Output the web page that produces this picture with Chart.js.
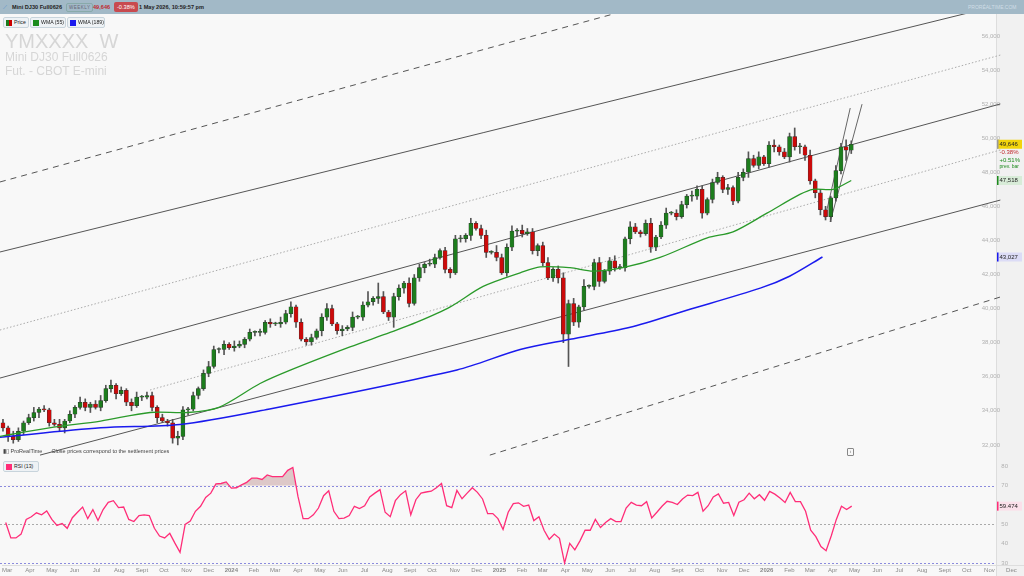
<!DOCTYPE html>
<html><head><meta charset="utf-8">
<script src="https://cdn.jsdelivr.net/npm/chart.js@4.4.1/dist/chart.umd.min.js"></script>
<style>
html,body{margin:0;padding:0;width:1024px;height:576px;overflow:hidden;font-family:"Liberation Sans",Arial,sans-serif;background:#f8f8f8}
#hdr{position:absolute;left:0;top:0;width:1024px;height:14px;background:#a2b9c7;font-size:5.6px;line-height:14px;color:#222;white-space:nowrap}
#hdr span{position:absolute;top:0}
.box{border:1px solid #8aa;border-radius:2px;line-height:7px;top:3px!important;padding:0 2px;font-size:4.5px;color:#667;letter-spacing:.5px}
#pc{position:absolute;left:0;top:14px}
#rc{position:absolute;left:0;top:458px}
.leg{position:absolute;top:17px;height:9px;font-size:5.2px;line-height:9px;border:1px solid #c8d4dc;border-radius:2px;background:#eef2f5;padding:0 2px 0 10px;color:#222;white-space:nowrap}
.leg i{position:absolute;left:2px;top:1.5px;width:6px;height:6px}
.wm{position:absolute;left:5px;color:#d6d6d6;white-space:nowrap}
</style></head><body>
<canvas id="pc" width="1024" height="444"></canvas>
<canvas id="rc" width="1024" height="118"></canvas>
<div id="hdr">
<span style="left:3px;color:#4a8ad0">⟋</span>
<span style="left:12px;font-weight:bold">Mini DJ30 Full0626</span>
<span class="box" style="left:66px">WEEKLY</span>
<span style="left:93px;color:#c0282d;font-weight:bold">49,646</span>
<span style="left:114px;top:2px;line-height:10px;background:#c84a4f;color:#fff;border-radius:2px;padding:0 3px">-0.38%</span>
<span style="left:139px;font-weight:bold">1 May 2026, 10:59:57 pm</span>
<span style="left:968px;color:#cfdde6;font-size:5px">PRORÉALTIME.COM</span>
</div>
<div class="leg" style="left:3px;width:12px"><i style="background:linear-gradient(90deg,#1c7c1c 50%,#c00 50%)"></i>Price</div>
<div class="leg" style="left:30px;width:22px"><i style="background:#1c8c1c"></i>WMA (55)</div>
<div class="leg" style="left:67px;width:24px"><i style="background:#1a1aee"></i>WMA (189)</div>
<div class="wm" style="top:30px;font-size:20px">YMXXXX&nbsp; W</div>
<div class="wm" style="top:50px;font-size:12px">Mini DJ30 Full0626</div>
<div class="wm" style="top:64px;font-size:12px">Fut. - CBOT E-mini</div>
<div style="position:absolute;left:3px;top:448px;font-size:5.5px;color:#444;white-space:nowrap">▮▯ ProRealTime &nbsp;&nbsp;&nbsp;&nbsp;&nbsp;Close prices correspond to the settlement prices</div>
<div style="position:absolute;left:847px;top:448px;width:5px;height:6px;border:1px solid #888;border-radius:1px;font-size:4px;line-height:6px;text-align:center;color:#555">i</div>
<div class="leg" style="left:3px;top:461px;width:22px"><i style="background:#ff2d78"></i>RSI (13)</div>
<script>
// ---- data (weekly, thousands of points) ----
const closes = [33.0,32.5,32.3,32.8,33.3,33.6,33.9,34.1,34.05,33.3,
33.2,33.0,33.4,33.8,34.2,34.5,34.2,34.4,34.2,34.6,
35.3,35.5,35.0,35.2,34.5,34.3,34.8,34.8,34.9,34.2,
33.6,33.4,33.3,32.4,32.5,34.05,34.1,34.9,35.3,36.2,
36.6,37.6,37.6,37.9,37.7,37.8,37.9,38.2,38.6,38.6,
38.6,39.2,39.1,39.1,39.2,39.7,40.1,39.2,38.2,38.05,
38.3,38.7,39.5,40.0,39.1,38.7,38.8,38.9,39.5,39.5,
40.2,40.4,40.6,40.7,39.8,39.5,40.7,41.2,41.5,40.3,
41.8,42.4,42.6,42.6,43.0,43.4,42.3,42.1,44.1,44.1,
44.3,45.0,44.7,44.3,43.3,43.3,43.0,42.1,43.6,44.55,
44.6,44.4,44.5,43.4,43.7,42.7,41.8,42.3,41.8,38.5,
40.3,39.2,40.1,41.3,41.3,42.7,41.6,42.2,42.8,42.4,
42.4,44.1,44.8,44.5,44.4,45.0,43.6,44.2,44.9,45.6,
45.6,45.4,46.1,46.6,46.6,47.0,45.6,46.4,47.4,47.7,
47.0,47.1,46.3,47.7,48.0,48.8,48.4,48.9,48.5,49.6,
49.5,49.2,48.9,50.1,49.5,49.5,49.0,47.5,46.8,45.8,
45.4,46.5,48.1,49.5,49.3,49.646];
const firstOpen = 33.3;
// wick extensions, hundreds of points
const wickUp = [2,1,3,2,1,2,3,1,2,1, 2,3,1,2,1,3,2,1,2,3, 2,3,1,2,1,2,3,1,2,2, 1,2,1,2,3,2,1,2,1,2, 3,2,1,2,1,3,2,1,2,1, 2,1,2,1,3,2,3,1,2,1, 2,1,2,3,2,1,2,1,3,1, 2,6,1,8,3,1,2,2,1,3, 2,2,1,3,2,1,2,1,2,2, 1,3,1,2,3,1,4,2,2,3, 1,3,2,2,1,2,3,1,2,3, 2,3,1,4,1,2,3,1,2,3, 2,1,3,2,1,2,3,1,2,3, 1,2,2,1,3,2,2,1,2,3, 1,2,1,3,2,4,2,3,1,2, 3,1,2,2,5,2,1,3,1,2, 2,1,3,2,4,2];
const wickDn = [2,3,2,1,2,1,2,3,1,2, 1,2,3,1,2,1,2,3,1,2, 1,2,3,1,2,3,1,2,1,2, 3,1,2,3,4,2,3,1,2,1, 2,1,2,3,1,2,1,2,1,2, 2,1,2,1,2,1,2,3,1,2, 2,1,3,2,1,2,3,1,2,1, 2,1,2,3,1,2,6,2,3,2, 1,2,3,1,2,1,2,3,1,2, 2,3,1,2,3,1,2,1,2,2, 3,2,1,2,3,2,1,2,3,5, 19,2,3,2,1,2,3,1,2,2, 1,2,3,1,2,1,3,2,1,2, 1,2,1,2,3,2,3,1,2,1, 2,3,2,1,2,3,1,2,1,2, 3,2,1,3,2,4,3,2,3,3, 2,3,2,2,6,2];
const rsi = [51,43,43,45,52.6,54,56,55,57,52.6,49.5,50.5,48,53.5,56.3,59,53,57.7,52,57.7,
61.4,62.3,58.7,59,52.6,51.5,54.6,55,54.6,48,44,43,45.4,40.3,35.6,50,51.7,56.8,59.4,64,
66.2,71,71.2,72,68.8,69,70.5,71.8,74,74,73.3,75.6,74.8,74.8,74.8,78,79.5,64.5,53,53,
55,58.5,64.9,67.4,56.8,53,53.3,54.6,59.4,58.2,59.7,64.2,66.2,68,56.3,54,62.3,65.4,67.4,55,
62.8,66.2,66.8,67.2,69,71.2,59.7,58.7,67.6,63.3,66.2,69,66.6,63.2,55.6,55.6,53,47.4,56.3,60.8,
61.2,59.4,60,52,54,47,42.3,45,42.8,30,40.2,36.8,41.5,47,47,52.6,48.4,51,53,51.5,
51.5,58.5,61.4,60,59.7,61.8,53.4,56.3,59.4,62,61.4,60.3,63.2,65.2,64.9,66.6,56.8,59.7,64.2,65.8,
61,61.4,54.6,61.5,62.8,66.2,63.3,65.4,62.5,67.1,65.7,63.7,61.4,66.6,61.8,61.8,56.8,47,43.7,38.6,
36.4,44,52.6,59.4,57.7,59.474];
// WMA readings: [week index, value]
const wma55 = [[-0.6,32.5],[9,33.0],[19,33.4],[28.6,33.9],[36,33.9],[42,34.2],[50,35.6],[56,36.4],[67.5,37.75],[75.3,38.6],[80.5,39.2],[87,40.1],[93.4,41.3],[100.6,42.1],[104.5,42.45],[110.3,42.4],[114.8,42.2],[120.6,42.4],[127.8,43.0],[137,44.15],[142,44.5],[148.6,45.6],[155,46.7],[157.6,47.0],[161.5,47.0],[165,47.518]];
const wma189 = [[-0.6,32.45],[19,33.0],[34.4,33.2],[50,34.0],[88.3,36.4],[100.6,37.6],[110.3,38.2],[122,38.9],[133,39.9],[147.3,41.2],[153,41.9],[159.4,43.027]];
// channel lines: [week index, value] pairs
const chDashTop = [[-0.6,47.43],[194,63.51]];
const chSolidTop = [[-0.6,43.32],[194,57.82]];
const chDotTop = [[-0.6,38.74],[194,54.88]];
const chSolidMid = [[-0.6,35.92],[194,52.01]];
const chDotMid = [[28.6,35.22],[194,49.31]];
const chSolidLow = [[7.2,31.40],[194,46.37]];
const chDashLow = [[94.7,31.40],[194,40.68]];
const fanA = [[159.9,45.32],[164.8,51.77]];
const fanB = [[160.9,45.08],[167.1,52.0]];
const monthLabels = ['Mar','Apr','May','Jun','Jul','Aug','Sept','Oct','Nov','Dec','2024','Feb','Mar','Apr','May','Jun','Jul','Aug','Sept','Oct','Nov','Dec','2025','Feb','Mar','Apr','May','Jun','Jul','Aug','Sept','Oct','Nov','Dec','2026','Feb','Mar','Apr','May','Jun','Jul','Aug','Sept','Oct','Nov','Dec'];
const priceTicks = [32,34,36,38,40,42,44,46,48,50,52,54,56];
const rsiTicks = [30,40,50,70,80];

// ---- build ----
const XMIN=-0.58, XMAX=198.6;
const t0 = new Date(2023,1,27).getTime();
const monthTicks = monthLabels.map((l,k)=>({i:(new Date(2023,2+k,1).getTime()-t0)/(7*864e5),l}));
const opens = closes.map((c,i)=> i===0?firstOpen:closes[i-1]);
const K = v=>v*1000;
const bodies = closes.map((c,i)=>({x:i,y:[K(opens[i]),K(c)]}));
const wicks = closes.map((c,i)=>({x:i,y:[K(Math.min(opens[i],c)-(wickDn[i]??2)/10),K(Math.max(opens[i],c)+(wickUp[i]??2)/10)]}));
const bodyCol = closes.map((c,i)=> c>=opens[i]?'#1d7d1d':'#cc0a0a');
const pts = a=>a.map(p=>({x:p[0],y:K(p[1])}));
const lineDs=(d,col,dash,w)=>({type:'line',data:pts(d),borderColor:col,borderWidth:w||1,borderDash:dash||[],pointRadius:0,order:5,clip:true});

const Y0=31230, Y1=57290;
const rightArea={id:'ra',beforeDraw(c){const x=c.ctx;x.save();x.fillStyle='#f1f1f1';x.fillRect(996,0,28,c.height);x.strokeStyle='#ddd';x.beginPath();x.moveTo(996.5,0);x.lineTo(996.5,c.height);x.stroke();x.restore();}};
const labelsPlug={id:'lp',afterDraw(c){const x=c.ctx,y=c.scales.y;x.save();x.font='6px Liberation Sans';x.textBaseline='middle';
 const box=(v,txt,bg,bar,fg)=>{const py=y.getPixelForValue(v);x.fillStyle=bg;x.fillRect(997,py-4.5,25,9);if(bar){x.fillStyle=bar;x.fillRect(997,py-4.5,1.5,9);}x.fillStyle=fg||'#222';x.fillText(txt,999.5,py);return py;};
 const p=box(49646,'49,646','#f2d40c','#999');
 x.fillStyle='#c0282d';x.fillText('-0.38%',999.5,p+8);x.fillStyle='#1d8a1d';x.fillText('+0.51%',999.5,p+16);x.font='5px Liberation Sans';x.fillText('prev. bar',999.5,p+22);x.font='6px Liberation Sans';
 box(47518,'47,518','#d8ecd8','#1d8a1d');box(43027,'43,027','#dcdcf6','#1a1aee');x.restore();}};

new Chart(document.getElementById('pc'),{type:'bar',
 data:{datasets:[
  lineDs(chDashTop,'#555',[6,5]),lineDs(chSolidTop,'#555'),lineDs(chDotTop,'#aaa',[1.5,2]),
  lineDs(chSolidMid,'#555'),lineDs(chDotMid,'#aaa',[1.5,2]),lineDs(chSolidLow,'#555'),lineDs(chDashLow,'#555',[6,5]),
  lineDs(fanA,'#666'),lineDs(fanB,'#666'),
  {type:'bar',data:wicks,backgroundColor:'#555',barThickness:1,grouped:false,order:3},
  {type:'bar',data:bodies,backgroundColor:bodyCol,borderColor:'#333',borderWidth:0.5,borderSkipped:false,barThickness:4,grouped:false,minBarLength:1,order:2},
  {type:'line',data:pts(wma55),borderColor:'#2a9a2a',borderWidth:1.3,pointRadius:0,tension:0.3,order:1},
  {type:'line',data:pts(wma189),borderColor:'#1a1aee',borderWidth:1.5,pointRadius:0,tension:0.3,order:1}
 ]},
 options:{responsive:false,animation:false,events:[],layout:{padding:0},
  plugins:{legend:{display:false},tooltip:{enabled:false}},
  scales:{
   x:{type:'linear',offset:false,min:XMIN,max:XMAX,display:false},
   y:{position:'right',min:Y0,max:Y1,grid:{display:false,drawTicks:false},border:{display:false},
      afterBuildTicks:s=>{s.ticks=priceTicks.map(v=>({value:K(v)}));},afterFit:s=>{s.width=0;},
      ticks:{mirror:true,padding:-24,color:'#b0b0b0',font:{size:6,family:'Liberation Sans'},callback:v=>v.toLocaleString('en-US')}}
  }},
 plugins:[rightArea,labelsPlug]});

const rsiPlug={id:'rp',beforeDatasetsDraw(c){const x=c.ctx,y=c.scales.y,a=c.chartArea;x.save();
 [[70,'#8b8bdd'],[30,'#8b8bdd'],[50,'#aaa']].forEach(([v,col])=>{const py=Math.round(y.getPixelForValue(v))+0.5;x.strokeStyle=col;x.setLineDash([2,2]);x.beginPath();x.moveTo(0,py);x.lineTo(996,py);x.stroke();});
 x.restore();},
 afterDraw(c){const x=c.ctx,y=c.scales.y;x.save();const py=y.getPixelForValue(59.474);x.fillStyle='#fbe0ea';x.fillRect(997,py-4.5,25,9);x.fillStyle='#ff2d78';x.fillRect(997,py-4.5,1.5,9);x.fillStyle='#222';x.font='6px Liberation Sans';x.textBaseline='middle';x.fillText('59.474',999.5,py);x.restore();}};
new Chart(document.getElementById('rc'),{type:'line',
 data:{datasets:[{data:rsi.map((v,i)=>({x:i,y:v})),borderColor:'#ff2d78',borderWidth:1.3,pointRadius:0,
   fill:{target:{value:70},above:'rgba(160,90,90,0.3)',below:'rgba(0,0,0,0)'}}]},
 options:{responsive:false,animation:false,events:[],layout:{padding:0},
  plugins:{legend:{display:false},tooltip:{enabled:false}},
  scales:{
   x:{type:'linear',offset:false,min:XMIN,max:XMAX,grid:{display:false,drawTicks:false},border:{color:'#ddd'},
      afterBuildTicks:s=>{s.ticks=monthTicks.map(m=>({value:m.i}));},afterFit:s=>{s.height=11;},
      ticks:{autoSkip:false,maxRotation:0,padding:2,color:'#888',
        font:ctx=>({size:6,family:'Liberation Sans',weight:/^\d{4}$/.test(ctx.tick&&ctx.tick.label)?'bold':'normal'}),
        callback:v=>{const m=monthTicks.find(t=>Math.abs(t.i-v)<1e-6);return m?m.l:'';}}},
   y:{position:'right',min:29,max:84.4,grid:{display:false,drawTicks:false},border:{display:false},
      afterBuildTicks:s=>{s.ticks=rsiTicks.map(v=>({value:v}));},afterFit:s=>{s.width=0;},
      ticks:{mirror:true,padding:-16,color:'#b0b0b0',font:{size:6,family:'Liberation Sans'}}}
  }},
 plugins:[rightArea,rsiPlug]});
</script>
</body></html>
